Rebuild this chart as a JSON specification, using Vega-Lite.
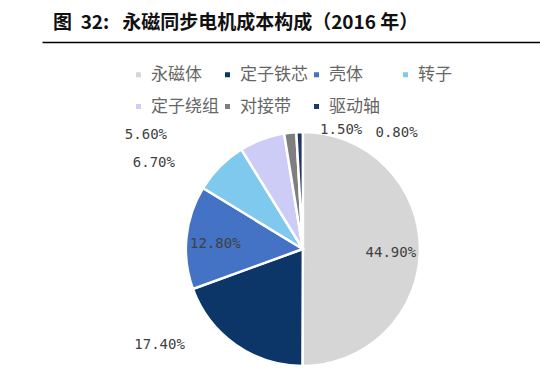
{
  "$schema": "https://vega.github.io/schema/vega-lite/v6.json",
  "width": 498,
  "height": 236,
  "autosize": {"type": "none"},
  "padding": {"left": 42, "top": 131, "right": 0, "bottom": 14},
  "background": "white",
  "config": {"view": {"stroke": null}},
  "title": {
    "text": "图\u00a0\u00a032:\u00a0\u00a0\u00a0永磁同步电机成本构成（2016\u00a0年）",
    "anchor": "start",
    "dx": 11,
    "offset": 9,
    "font": "Noto Sans CJK SC",
    "fontSize": 19,
    "fontWeight": "bold",
    "color": "#111111"
  },
  "data": {
    "values": [
      {"part": "永磁体", "share": 0.449},
      {"part": "定子铁芯", "share": 0.174},
      {"part": "壳体", "share": 0.128},
      {"part": "转子", "share": 0.067},
      {"part": "定子绕组", "share": 0.056},
      {"part": "对接带", "share": 0.015},
      {"part": "驱动轴", "share": 0.008}
    ]
  },
  "encoding": {
    "theta": {"field": "share", "type": "quantitative", "stack": true},
    "order": {"field": "share", "sort": "descending"},
    "x": {
      "datum": 0,
      "type": "quantitative",
      "scale": {"domain": [-1.1, 1], "nice": false, "zero": false},
      "axis": {"orient": "top", "offset": 89, "labels": false, "ticks": false, "grid": false, "title": null, "domainColor": "#000000", "domainWidth": 1.5}
    }
  },
  "layer": [
    {
      "mark": {"type": "arc", "outerRadius": 117, "stroke": "white", "strokeWidth": 2.5},
      "encoding": {
        "color": {
          "field": "part",
          "type": "nominal",
          "scale": {
            "domain": ["永磁体", "定子铁芯", "壳体", "转子", "定子绕组", "对接带", "驱动轴"],
            "range": ["#D6D6D6", "#0B3667", "#4472C4", "#7FC8EE", "#CCCCF6", "#7F7F7F", "#1F3864"]
          },
          "legend": {
            "orient": "none",
            "legendX": 88,
            "legendY": -65,
            "direction": "horizontal",
            "columns": 4,
            "title": null,
            "symbolType": "square",
            "symbolSize": 25,
            "symbolStrokeWidth": 0,
            "labelFont": "Noto Sans CJK SC",
            "labelFontSize": 17,
            "labelColor": "#666666",
            "labelOffset": 4,
            "columnPadding": 0,
            "rowPadding": 14,
            "gridAlign": "all"
          }
        }
      }
    },
    {
      "mark": {"type": "text", "radius": 88, "dy": 4, "font": "DejaVu Sans Mono", "fontSize": 14, "fill": "#404040"},
      "encoding": {
        "text": {"condition": {"test": "datum.part === '永磁体' || datum.part === '壳体'", "field": "share", "type": "quantitative", "format": ".2%"}, "value": ""}
      }
    },
    {
      "mark": {"type": "text", "radius": 117, "dx": -76, "dy": 0, "font": "DejaVu Sans Mono", "fontSize": 14, "fill": "#404040"},
      "encoding": {
        "text": {"condition": {"test": "datum.part === '定子铁芯'", "field": "share", "type": "quantitative", "format": ".2%"}, "value": ""}
      }
    },
    {
      "mark": {"type": "text", "radius": 117, "dx": -66, "dy": -3, "font": "DejaVu Sans Mono", "fontSize": 14, "fill": "#404040"},
      "encoding": {
        "text": {"condition": {"test": "datum.part === '转子'", "field": "share", "type": "quantitative", "format": ".2%"}, "value": ""}
      }
    },
    {
      "mark": {"type": "text", "radius": 117, "dx": -116, "dy": -4, "font": "DejaVu Sans Mono", "fontSize": 14, "fill": "#404040"},
      "encoding": {
        "text": {"condition": {"test": "datum.part === '定子绕组'", "field": "share", "type": "quantitative", "format": ".2%"}, "value": ""}
      }
    },
    {
      "mark": {"type": "text", "radius": 117, "dx": 51, "dy": -3, "font": "DejaVu Sans Mono", "fontSize": 14, "fill": "#404040"},
      "encoding": {
        "text": {"condition": {"test": "datum.part === '对接带'", "field": "share", "type": "quantitative", "format": ".2%"}, "value": ""}
      }
    },
    {
      "mark": {"type": "text", "radius": 117, "dx": 97, "dy": 1, "font": "DejaVu Sans Mono", "fontSize": 14, "fill": "#404040"},
      "encoding": {
        "text": {"condition": {"test": "datum.part === '驱动轴'", "field": "share", "type": "quantitative", "format": ".2%"}, "value": ""}
      }
    }
  ]
}
